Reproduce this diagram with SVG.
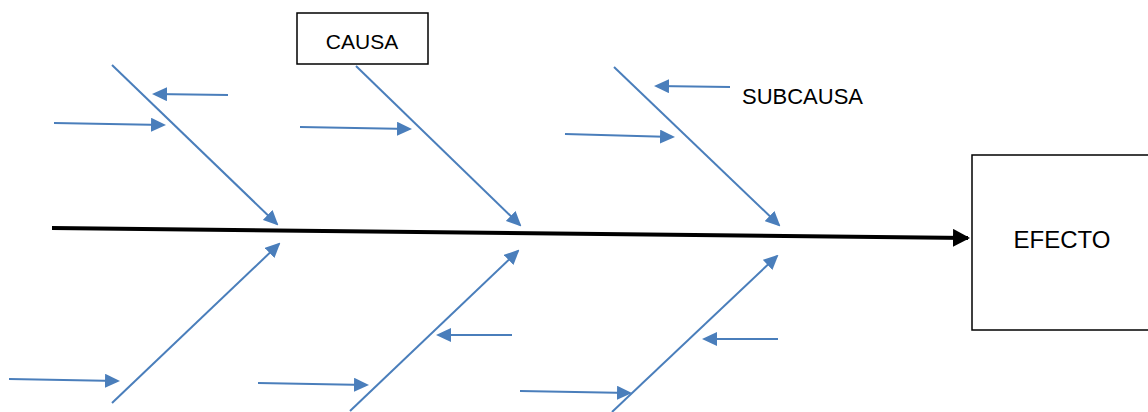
<svg xmlns="http://www.w3.org/2000/svg" width="1148" height="412" viewBox="0 0 1148 412">
<defs>
<marker id="ab" viewBox="0 0 15 14" markerUnits="userSpaceOnUse" markerWidth="15" markerHeight="14" refX="13" refY="7" orient="auto">
<path d="M0,0 L15,7 L0,14 z" fill="#4a7ebb"/>
</marker>
<marker id="ak" viewBox="0 0 17 18" markerUnits="userSpaceOnUse" markerWidth="17" markerHeight="18" refX="15" refY="9" orient="auto">
<path d="M0,0 L17,9 L0,18 z" fill="#000"/>
</marker>
<style>
.b{stroke:#4a7ebb;stroke-width:2;fill:none;marker-end:url(#ab)}
.box{fill:#fff;stroke:#000;stroke-width:1.5}
.t{font-family:"Liberation Sans",Arial,sans-serif;fill:#000}
</style>
</defs>
<g id="connectors">
<line x1="52" y1="228" x2="968" y2="238" stroke="#000" stroke-width="4" marker-end="url(#ak)"/>
<line class="b" x1="112" y1="65" x2="277" y2="224"/>
<line class="b" x1="228" y1="95" x2="154" y2="94"/>
<line class="b" x1="54" y1="123" x2="164" y2="125"/>
<line class="b" x1="356" y1="66" x2="520" y2="225"/>
<line class="b" x1="300" y1="127" x2="410" y2="129"/>
<line class="b" x1="614" y1="67" x2="779" y2="225"/>
<line class="b" x1="730" y1="87" x2="656" y2="86"/>
<line class="b" x1="565" y1="134" x2="673" y2="137"/>
<line class="b" x1="112" y1="403" x2="279" y2="244"/>
<line class="b" x1="9" y1="379" x2="118" y2="381"/>
<line class="b" x1="350" y1="411" x2="518" y2="251"/>
<line class="b" x1="258" y1="383" x2="367" y2="385"/>
<line class="b" x1="512" y1="335" x2="438" y2="335"/>
<line class="b" x1="612" y1="412" x2="777" y2="256"/>
<line class="b" x1="778" y1="339" x2="704" y2="339"/>
<line class="b" x1="520" y1="391" x2="630" y2="393"/>
</g>
<g id="causa">
<rect class="box" x="297" y="13" width="131" height="51"/>
<text class="t" x="362" y="49" font-size="21" text-anchor="middle">CAUSA</text>
</g>
<g id="efecto">
<rect class="box" x="972" y="155" width="190" height="175"/>
<text class="t" x="1062" y="248" font-size="24" text-anchor="middle">EFECTO</text>
</g>
<g id="subcausa">
<text class="t" x="742" y="104" font-size="22">SUBCAUSA</text>
</g>
</svg>
